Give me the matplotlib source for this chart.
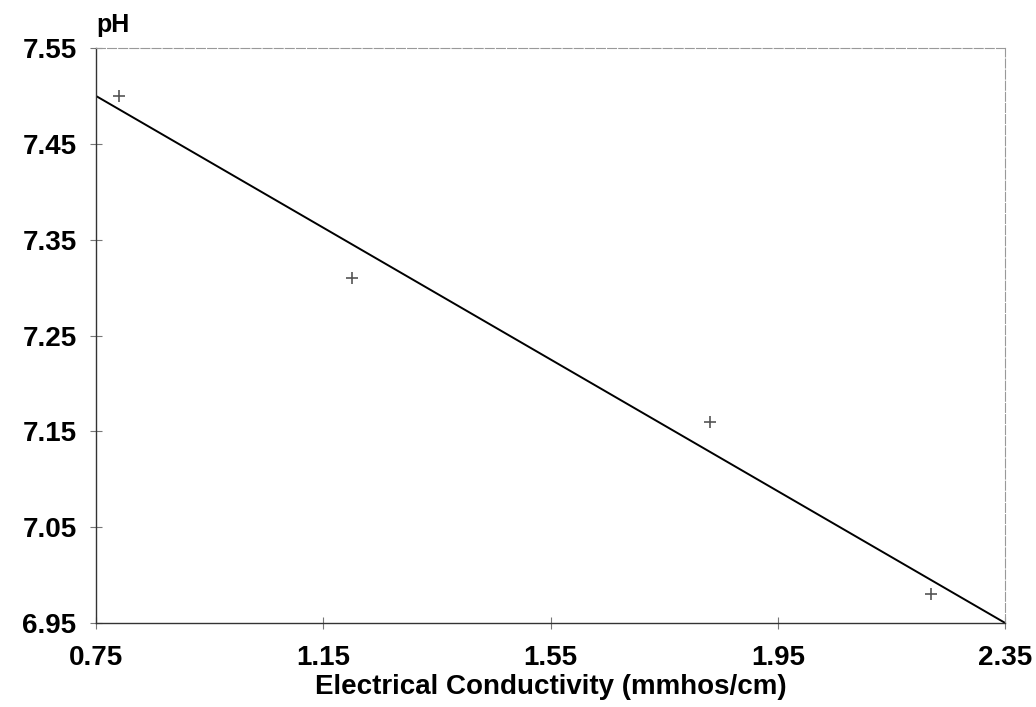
"""
pH vs Electrical Conductivity: observed points and fitted line.
"""

import matplotlib
matplotlib.use("Agg")
import matplotlib.pyplot as plt

# --- Datos ---
ec_obs = [0.79, 1.20, 1.83, 2.22]
ph_obs = [7.50, 7.31, 7.16, 6.98]

ec_fit = [0.75, 2.35]
ph_fit = [7.50, 6.95]

x_ticks = [0.75, 1.15, 1.55, 1.95, 2.35]
y_ticks = [6.95, 7.05, 7.15, 7.25, 7.35, 7.45, 7.55]

plt.rcParams["font.family"] = ["Liberation Sans", "DejaVu Sans"]

fig = plt.figure(figsize=(10.36, 7.07), dpi=100)
ax = fig.add_axes([0.0927, 0.1188, 0.8776, 0.8132])

ax.plot(ec_fit, ph_fit, color="black", linewidth=1.4)
ax.plot(ec_obs, ph_obs, linestyle="none", marker="+", markersize=9,
        markeredgewidth=1.2, color="#555555")

ax.set_xlim(0.75, 2.35)
ax.set_ylim(6.95, 7.55)
ax.set_xticks(x_ticks)
ax.set_yticks(y_ticks)
ax.set_xticklabels([f"{v:.2f}" for v in x_ticks], fontsize=20, fontweight="bold")
ax.set_yticklabels([f"{v:.2f}" for v in y_ticks], fontsize=20, fontweight="bold")
ax.tick_params(direction="inout", length=8, width=0.8, color="#777777")
ax.tick_params(axis="y", pad=10)
ax.tick_params(axis="x", pad=12)

for side in ["top", "right"]:
    ax.spines[side].set_color("#999999")
    ax.spines[side].set_linewidth(0.8)
    ax.spines[side].set_linestyle((0, (8, 2)))
for side in ["left", "bottom"]:
    ax.spines[side].set_color("#333333")
    ax.spines[side].set_linewidth(1.0)

ax.set_xlabel("Electrical Conductivity (mmhos/cm)", fontsize=20, fontweight="bold", labelpad=2)
ax.text(0.0, 1.02, "pH", transform=ax.transAxes, fontsize=18, fontweight="bold",
        ha="left", va="bottom")

fig.savefig("out.png", dpi=100)
